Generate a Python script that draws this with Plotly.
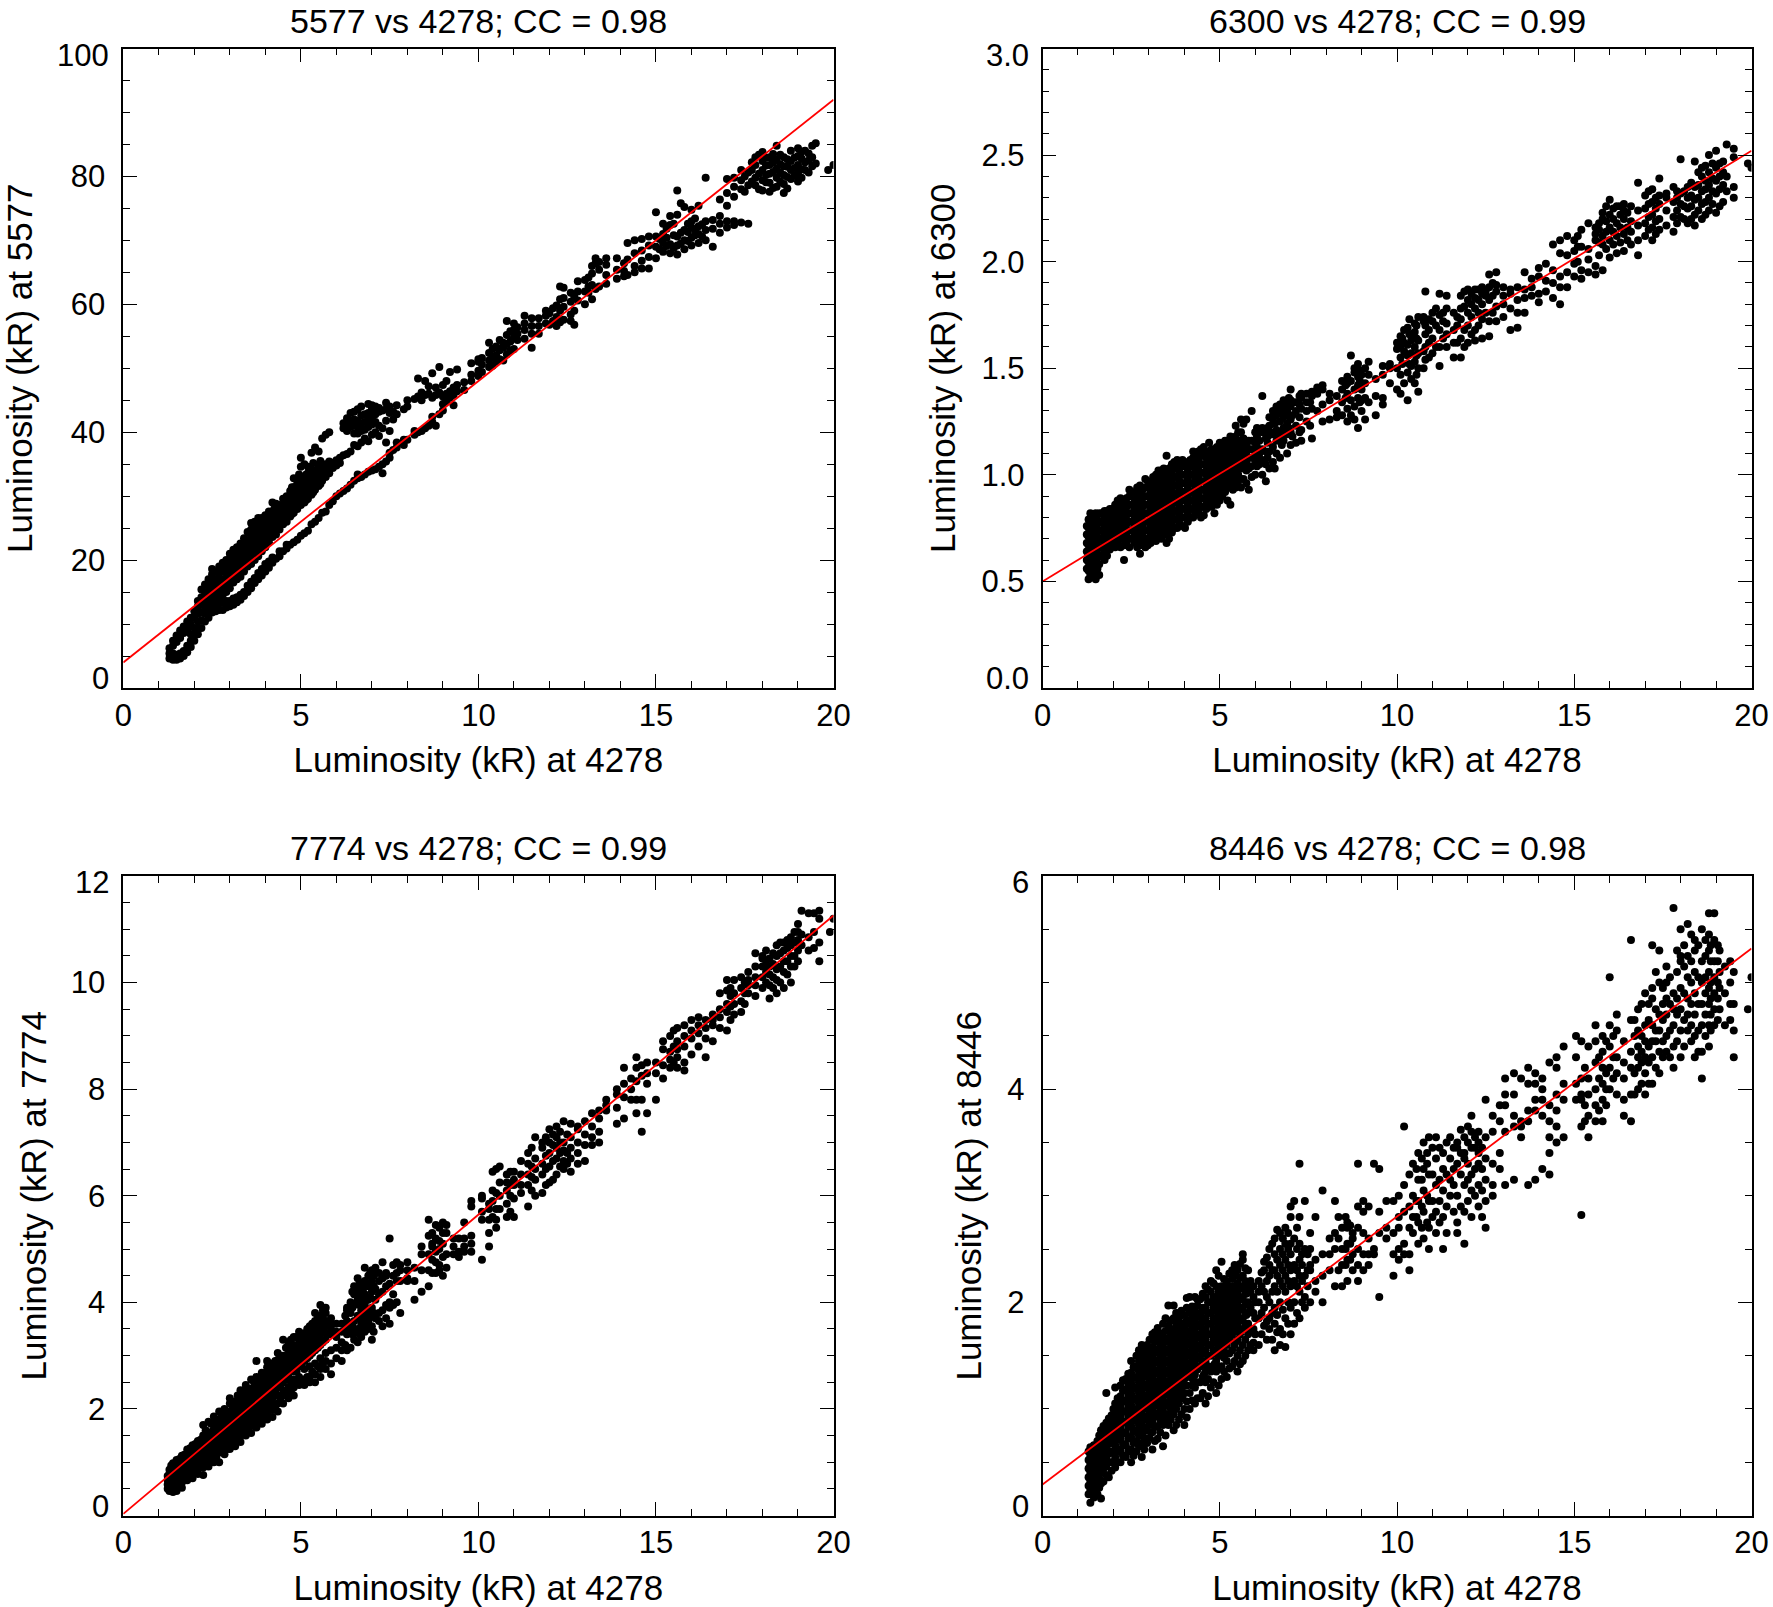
import plotly.graph_objects as go

W, H = 1773, 1607
panel_names = ["5577", "6300", "7774", "8446"]
titles = ["5577 vs 4278; CC = 0.98", "6300 vs 4278; CC = 0.99", "7774 vs 4278; CC = 0.99", "8446 vs 4278; CC = 0.98"]
y_ranges = [100, 3, 12, 6]
y_major = [[0,20,40,60,80,100],[0,0.5,1,1.5,2,2.5,3],[0,2,4,6,8,10,12],[0,2,4,6]]
y_major_text = [["0","20","40","60","80","100"],["0.0","0.5","1.0","1.5","2.0","2.5","3.0"],["0","2","4","6","8","10","12"],["0","2","4","6"]]
y_minor_step = [5, 0.1, 0.5, 0.5]
line_ends = [[4.0,92.0],[0.5,2.52],[0.03,11.26],[0.29,5.32]]
line_x = [0, 20]

cols_5577 = [
(1.3,[4.6,5.4,6.2]),(1.4,[4.4,5.4,6.6,7.4]),(1.5,[4.4,5.2,7.2,8.2]),(1.6,[4.6,5.4,7.8,9]),(1.7,[5,5.8,8.6,9.6]),
(1.8,[5.6,6.6,9.2,10.4]),(1.9,[6.4,7.4,8.4,10,11]),(2.0,[7.4,8.4,9.4,11,12]),(2.1,[8.4,9.4,10.4,11.6,12.8,13.6]),
(2.2,[9.4,10.6,11.8,13,14.2,15.4]),(2.3,[10.4,11.6,12.6,13.8,15,16.2]),(2.4,[11,12,13,14,15,16,17]),(2.5,[11.8,12.8,13.8,14.8,15.8,16.8,17.8,18.6]),
(2.6,[12,13,14,15,16,17,18.2]),(2.7,[12.2,13.2,14.2,15.2,16.2,17.2,18,19]),(2.8,[12.2,13.4,14.6,15.8,17,18.2,19,19.6]),
(2.9,[12.6,13.6,15,16,17,18,19,20]),(3.0,[12.8,13.6,15.6,16.8,18,19,20,21]),(3.1,[13,14,16.5,17.5,18.5,19.5,20.8,21.6]),
(3.2,[13.4,14.2,17,18,19,20,21,22]),(3.3,[13.8,14.6,17.4,18.4,19.4,20.4,21.5,22.6]),(3.4,[14.4,15,18.2,19.2,20.2,21.2,22.2,23.4]),
(3.5,[15,16,19,20,21,22,23,24.4]),(3.6,[15.6,16.6,19.4,20.4,21.4,22.4,23.4,24.8,25.8]),(3.7,[16.4,17.2,20,21,22,23,24,25.4,26]),
(3.8,[17,18,20.6,21.6,22.6,23.6,24.6,26,26.6]),(3.9,[17.6,18.6,21.4,22.4,23.4,24.4,25.4,26.6]),(4.0,[18.2,19.4,22,23,24,25,26,27]),
(4.1,[18.8,19.8,22.8,23.8,24.8,25.8,26.8,27.6]),(4.2,[19.6,20.4,23.6,24.6,25.6,26.6,27.6,29]),(4.3,[20.2,24,25,26,27,28,28.8]),
(4.4,[20.6,21.4,24.8,25.8,26.8,27.8,28.6]),(4.5,[21.4,25.6,26.6,27.6,28.6,29.6]),(4.6,[21.8,22.4,26,27,28,29,30]),
(4.7,[22.4,26.8,27.8,28.8,29.8,30.8]),(4.8,[22.8,27.4,28.4,29.4,30.4,31.4,32.8]),(4.9,[23.2,28,29,30,31,32]),
(5.0,[23.8,28.6,29.6,30.6,31.6,32.6,34.6,36]),(5.1,[24.2,29,30,31,32,33,35]),(5.2,[24.6,29.6,30.6,31.6,32.6,33.6,34.6]),
(5.3,[25.6,30.2,31.2,32.2,33.2,34.2,36.8]),(5.4,[26,31,32,33,34,37.6]),(5.5,[26.6,31.6,32.6,33.6,34.6,37]),
(5.6,[27.4,32.4,33.4,34.4,35,39]),(5.7,[27.6,33,34,35,39.6]),(5.8,[28.6,33.6,34.6,35.4,40]),(5.9,[29.2,34.4,35.2]),
(6.0,[30,34.8,35.6]),(6.1,[30.4,35.2,36]),(6.2,[30.8,36.4,40.6,41.4]),(6.3,[31.2,36.6,40.2,41,42.2]),(6.4,[31.8,37,40.8,41.8,43]),
(6.5,[32.4,38,39.8,41,42,43.2]),(6.6,[32.8,33.4,37.8,39.8,40.8,41.8,43.6]),(6.7,[33,38.4,40.2,41.4,42.6,44]),(6.8,[33.4,39,40.4,41.6,42.8]),
(6.9,[33.8,38.6,40.8,42,43,44.4]),(7.0,[34,39.6,41.2,42.4,43.6,44.2]),(7.1,[34.2,40,41.6,42.8,44]),(7.2,[34.6,39.4,41,43.2,43.8]),
(7.3,[35,33.6,40.6,43.4]),(7.4,[35.4,38.4,41.8,43.6,44.6]),(7.5,[36,36.8,40.2,43,44]),(7.6,[37.2,42,43.2]),(7.7,[37.6,38.4,42.8,44.2]),
(7.9,[38,38.8,43.6]),(8.0,[38.8,44,45]),(8.2,[39.6,40.2,45.2]),(8.3,[40,45.6,48.4]),(8.4,[40.2,45,46.2]),(8.5,[40.6,45.8,48]),
(8.6,[41,46,47.2]),(8.7,[41.6,42.4,45.4,49.2]),(8.8,[41,45.8,47]),(8.9,[42.8,46.2,50.2]),(9.0,[43.4,44.4,45.6,47.4]),(9.1,[44.8,46,48]),
(9.2,[45.4,46.4,49.4]),(9.3,[44.2,45.8,47]),(9.4,[46.4,47.4,49.8]),(9.6,[46.6,47.8]),(9.8,[48,49,50.8]),(10.0,[48.8,49.6,51,51.4]),
(10.1,[49.4,50.6,51.6]),(10.3,[50.2,51.2,52.4,54]),(10.4,[50.4,51.8,53]),(10.5,[51,52,53.4]),(10.6,[51.4,52.8,54.4]),(10.7,[51.2,53.2,54]),
(10.8,[52.2,53.8,55.2,57.4]),(10.9,[52.8,54.2,55.8]),(11.0,[53,54.8,56,57]),(11.1,[54.4,55.4,56.4]),(11.3,[54.6,56,57,58.2]),(11.5,[53.2,55.4,56.6,57.8]),
(11.7,[55.4,56.6,57.8]),(11.9,[57,58.2,59]),(12.0,[56.8,58.6]),(12.1,[57.4,59.4]),(12.2,[56.6,58,59.8]),(12.3,[57.2,59,60.8,62.8]),(12.4,[57.6,59.6,61,62.6]),
(12.6,[57.4,58.4,60.4,61.8]),(12.7,[56.8,59,61.2]),(12.8,[60.6,62,63.6]),(13.0,[60,62,63.8]),(13.1,[61.8,62.8,64.2]),(13.2,[60.8,63,64.8,66]),
(13.3,[62.4,66.4,67.2]),(13.4,[62.8,65.4,66.6]),(13.6,[63.2,64.6,66.2,67.2]),(13.9,[64,65.4,67.2]),(14.1,[64.4,65.2,66.4]),(14.2,[64.6,67,69.6]),(14.4,[65,66,68,70]),
(14.6,[65.6,66.8,68.4,70.2]),(14.8,[65.6,67.4,69.2,70.6]),(15.0,[67.2,69,70.6,74.4]),(15.2,[68.2,69.6,72.6,71]),(15.4,[68,69.4,72.4,73.8]),(15.6,[67.8,69.2,70.6,74,77.8]),
(15.8,[68.6,70,71.6,75.2]),(16.0,[69.2,70.4,72,74.8,73]),(16.2,[69.6,71,72.2,75.4]),(16.4,[70,71.6,73,79.8]),(16.6,[69,71.8,73.2]),(16.8,[71.2,72.6,73.8,76.4]),
(17.0,[72,73,75.4,77.4,79.6]),(17.2,[72.4,73,78.4,79.8,76.8]),(17.4,[72.8,78,79.4,81]),(17.5,[77.6,80]),(17.6,[72.6,78.6,80.6]),(17.8,[78.6,79.8,81.8,83]),
(17.9,[78,80.4,83.4]),(18.0,[77.8,79.4,81,82.4,83.8]),(18.2,[77.6,79,80.4,81.8,83]),(18.4,[78.4,79.8,81.2,82.6,84.8]),(18.6,[77.4,78.8,80.2,81.6,83]),
(18.8,[79.6,81,82.4,84]),(19.0,[79.2,80.4,81.8,83.2,84.4]),(19.2,[81,82.2,84]),(19.4,[81.6,83,84.8]),(19.5,[82,85.2]),(19.85,[81]),(20.0,[81.8]),
(18.1,[79.1,80.2,81.7,82.9]),(18.3,[78.2,80.7,82.2,83.5]),(18.5,[79.2,80.6,81.9,83.4]),(18.7,[78.1,79.9,81.5,82.7]),(18.9,[80.1,81.3,82.9]),(19.1,[79.8,81.1,82.8,83.9]),(19.3,[80.6,82.5,83.6]),(17.7,[79.2,81,82.2]),
(15.1,[68.6,70.2]),(15.3,[69.1,70.4,71.8]),(15.5,[68.8,70.8,72.6]),(15.7,[69.5,71.2,75.8]),(15.9,[69.9,71.3,72.6]),(16.1,[70.8,71.7,73.4]),(16.3,[70.6,72.5]),
(2.55,[15.4,16.4,13.4]),(3.05,[17.3,18.5,19.6]),(3.25,[18.5,19.6,20.6]),(3.55,[20.5,21.6,22.6,24.2]),(3.75,[21.5,22.6,23.7,24.6]),(4.05,[23.5,24.6,25.6,26.6]),(4.25,[24.2,25.2,26.2,27.2,28]),(4.55,[26.4,27.4,28.4,29.4]),(4.75,[27.2,28.2,29.2,30.2,31.4]),(4.95,[28.6,29.6,30.6,31.6,33.4]),(5.15,[29.4,30.4,31.4,32.4,33.4]),(5.35,[30.6,31.6,32.6,33.6,35.2]),(5.55,[31.9,33,34,35.5]),
]

cols_6300 = [
(1.25,[.56,.6,.64,.68,.72,.76]),(1.3,[.51,.55,.59,.63,.67,.71,.75,.79]),(1.4,[.53,.57,.61,.65,.69,.73,.77,.8]),(1.5,[.51,.55,.59,.63,.67,.71,.75,.79,.82]),
(1.6,[.53,.58,.62,.66,.7,.74,.78,.82]),(1.75,[.6,.64,.68,.72,.76,.8,.83]),(1.9,[.65,.69,.73,.77,.81,.84]),(2.05,[.66,.7,.74,.78,.82,.86]),
(2.2,[.66,.7,.74,.78,.82,.85,.89]),(2.3,[.6,.67,.71,.75,.79,.83,.87]),(2.45,[.66,.7,.74,.78,.82,.86,.9,.93]),(2.6,[.68,.72,.76,.8,.84,.88,.92]),
(2.75,[.63,.67,.71,.75,.79,.83,.87,.91,.95]),(2.9,[.66,.7,.74,.78,.82,.86,.9,.94,.98]),(3.05,[.68,.72,.76,.8,.84,.88,.92,.96]),(3.2,[.69,.73,.77,.81,.85,.89,.93,.97,1.0]),
(3.35,[.7,.74,.78,.82,.86,.9,.94,.98,1.02]),(3.5,[.68,.73,.77,.81,.85,.89,.93,.97,1.01,1.09]),(3.65,[.73,.77,.81,.85,.89,.93,.97,1.01,1.05]),
(3.8,[.75,.79,.83,.87,.91,.95,.99,1.03,1.07]),(3.95,[.76,.8,.84,.88,.92,.96,1,1.04,1.07]),(4.1,[.78,.82,.86,.9,.94,.98,1.02,1.05]),
(4.25,[.8,.84,.88,.92,.96,1,1.04,1.08,1.11]),(4.4,[.83,.87,.91,.95,.99,1.03,1.07,1.11]),(4.55,[.81,.85,.89,.93,.97,1.01,1.05,1.09,1.13]),
(4.7,[.86,.9,.94,.98,1.02,1.06,1.1,1.15]),(4.85,[.82,.88,.92,.96,1,1.04,1.08,1.12]),(5.0,[.88,.92,.96,1,1.04,1.08,1.12,1.15]),(5.15,[.92,.96,1,1.04,1.08,1.12,1.16]),
(5.3,[.86,.94,.98,1.02,1.06,1.1,1.14,1.18]),(5.45,[.94,.98,1.02,1.06,1.1,1.14,1.18,1.23]),(5.6,[.94,.98,1.03,1.07,1.11,1.15,1.2,1.26]),(5.75,[.96,1.02,1.06,1.1,1.14,1.26]),
(5.9,[.99,1.04,1.08,1.12,1.16,1.3]),(6.05,[1.04,1.09,1.13,1.18,1.22]),(6.2,[1.0,1.07,1.12,1.2,1.22,1.37]),(6.3,[.97,1.05,1.11,1.17,1.21]),(6.4,[1.03,1.11,1.2,1.23,1.27]),
(6.5,[1.06,1.13,1.19,1.26,1.3]),(6.6,[1.1,1.16,1.21,1.28,1.32]),(6.7,[1.08,1.18,1.25,1.29,1.33]),(6.8,[1.16,1.22,1.27,1.31,1.35]),(6.9,[1.1,1.19,1.24,1.3,1.33]),
(7.0,[1.14,1.2,1.26,1.32,1.35,1.4]),(7.15,[1.15,1.23,1.3,1.34]),(7.3,[1.16,1.21,1.31,1.36,1.38]),(7.45,[1.25,1.3,1.34,1.38]),(7.6,[1.17,1.31,1.37,1.39]),(7.75,[1.3,1.38,1.41]),
(7.9,[1.25,1.33,1.4,1.42]),(8.1,[1.26,1.35,1.38]),(8.3,[1.3,1.27,1.37]),(8.45,[1.28,1.34,1.4,1.44]),(8.6,[1.25,1.31,1.38,1.46,1.43]),(8.7,[1.28,1.35,1.44,1.56]),
(8.8,[1.26,1.32,1.4,1.48,1.5]),(8.9,[1.22,1.36,1.42,1.46,1.52]),(9.0,[1.3,1.35,1.4,1.47]),(9.1,[1.26,1.36,1.43,1.5]),(9.2,[1.34,1.47,1.53]),(9.4,[1.28,1.37,1.45]),
(9.6,[1.33,1.36,1.47,1.51]),(9.8,[1.43,1.52,1.5]),(10.0,[1.4,1.5,1.59,1.62]),(10.1,[1.38,1.47,1.55,1.6,1.65]),(10.2,[1.43,1.58,1.62,1.68]),(10.3,[1.35,1.48,1.56,1.61,1.69]),
(10.4,[1.45,1.51,1.57,1.63,1.66]),(10.5,[1.43,1.53,1.6,1.67,1.71]),(10.6,[1.39,1.5,1.57,1.63,1.74]),(10.8,[1.54,1.6,1.66,1.7,1.86]),(10.9,[1.55,1.62,1.68,1.73]),(11.0,[1.57,1.64,1.72,1.76]),
(11.2,[1.51,1.6,1.68,1.75,1.85]),(11.4,[1.6,1.66,1.71,1.84,1.78]),(11.6,[1.55,1.62,1.68,1.76]),(11.8,[1.55,1.64,1.73,1.78,1.84]),(12.0,[1.62,1.7,1.76,1.82,1.87]),
(12.2,[1.63,1.68,1.78,1.83,1.87]),(12.4,[1.64,1.73,1.8,1.85,1.88]),(12.6,[1.65,1.72,1.82,1.88,1.94]),(12.8,[1.72,1.79,1.86,1.95,1.89]),(13.0,[1.74,1.8,1.84,1.88]),(13.2,[1.68,1.78,1.85,1.87]),
(13.4,[1.69,1.76,1.82,1.88]),(13.6,[1.76,1.83,1.87,1.95]),(13.8,[1.84,1.88,1.92]),(14.0,[1.81,1.85,1.93,1.97]),(14.2,[1.86,1.91,1.99]),(14.4,[1.83,1.9,1.96,2.08]),(14.6,[1.8,1.88,1.93,2.04,2.1]),
(14.8,[1.88,1.95,2.03,2.12]),(15.0,[1.93,1.99,2.05,2.1]),(15.2,[1.92,1.96,2.07,2.15]),(15.4,[1.95,2.01,2.06,2.18]),(15.6,[1.94,1.98,2.1,2.13,2.16]),(15.8,[1.96,2.08,2.12,2.2,2.23]),
(16.0,[2.02,2.1,2.16,2.22,2.29]),(16.2,[2.04,2.12,2.18,2.26]),(16.4,[2.05,2.13,2.2,2.24,2.27]),(16.6,[2.08,2.14,2.19,2.26]),(16.8,[2.03,2.1,2.17,2.24,2.37]),(17.0,[2.12,2.18,2.25,2.31]),
(17.2,[2.1,2.16,2.22,2.28,2.34]),(17.4,[2.15,2.2,2.27,2.31,2.39]),(17.6,[2.17,2.24,2.3,2.32]),(17.8,[2.14,2.21,2.28,2.35]),(18.0,[2.21,2.27,2.32,2.48]),(18.2,[2.18,2.25,2.3,2.35]),
(18.4,[2.17,2.22,2.29,2.35,2.47]),(18.6,[2.2,2.27,2.33,2.4,2.44]),(18.8,[2.24,2.3,2.36,2.42,2.5]),(19.0,[2.23,2.32,2.38,2.44,2.52]),(19.2,[2.28,2.36,2.42,2.47]),(19.3,[2.33,2.4,2.55]),
(19.5,[2.3,2.35,2.49,2.53]),(19.9,[2.46]),(20.0,[2.44]),
(1.35,[.53,.58,.62,.66,.7,.74,.78,.82]),(1.55,[.56,.61,.65,.69,.73,.77,.81]),(1.68,[.62,.66,.7,.74,.78,.82]),(1.82,[.62,.66,.71,.75,.79,.83]),(1.97,[.68,.72,.76,.8,.84]),(2.12,[.68,.72,.76,.8,.84,.88]),(2.37,[.68,.72,.77,.81,.85,.89]),(2.52,[.7,.74,.78,.82,.86,.91]),(2.67,[.66,.7,.74,.78,.82,.86,.9,.94]),(2.82,[.68,.72,.76,.81,.85,.89,.93]),(2.97,[.67,.7,.74,.78,.82,.86,.9,.94,.97]),(3.12,[.71,.75,.79,.83,.87,.91,.95,.99]),(3.27,[.71,.75,.79,.83,.87,.91,.95,.99,1.02]),(3.42,[.72,.76,.8,.84,.88,.92,.96,1,1.03]),(3.57,[.7,.75,.79,.83,.87,.91,.95,.99,1.03]),(3.72,[.75,.79,.83,.87,.91,.95,.99,1.03,1.06]),(3.87,[.77,.81,.85,.89,.93,.97,1.01,1.05]),(4.02,[.75,.8,.84,.88,.92,.96,1,1.04,1.06]),(4.17,[.8,.84,.88,.92,.96,1,1.04,1.07]),(4.32,[.82,.86,.9,.94,.98,1.02,1.06,1.09]),(4.47,[.8,.85,.89,.93,.97,1.01,1.05,1.09,1.12]),(4.62,[.84,.88,.92,.96,1,1.04,1.08,1.11]),(4.77,[.85,.89,.93,.97,1.01,1.05,1.09,1.12]),(4.92,[.86,.9,.94,.98,1.02,1.06,1.1,1.13]),(5.07,[.9,.94,.98,1.02,1.06,1.1,1.14]),(5.22,[.88,.95,.99,1.03,1.07,1.11,1.15]),(5.37,[.93,.97,1.01,1.05,1.09,1.13,1.17]),(5.52,[.95,1,1.04,1.08,1.12,1.16,1.2]),(5.67,[.98,1.04,1.08,1.12,1.17,1.24]),(5.82,[.93,1.03,1.08,1.12,1.16]),(6.0,[1.0,1.07,1.11,1.15,1.2]),
(6.12,[1.05,1.1,1.16,1.21]),(6.35,[1.08,1.15,1.22,1.18]),(6.55,[1.03,1.2,1.24,1.29]),(6.75,[1.14,1.2,1.29,1.32]),(6.95,[1.22,1.28,1.36]),(7.05,[1.18,1.28,1.34]),(7.25,[1.2,1.27,1.33,1.37]),(7.55,[1.23,1.34]),(8.55,[1.36,1.42]),(8.95,[1.34,1.44,1.49]),(10.15,[1.52,1.64]),(10.35,[1.52,1.66,1.73]),(10.55,[1.47,1.56,1.64,1.7]),(10.75,[1.5,1.58,1.72,1.74]),(11.1,[1.6,1.7,1.78]),(11.3,[1.64,1.72,1.76]),(11.7,[1.62,1.7,1.74]),(11.9,[1.6,1.68,1.79,1.86]),(12.1,[1.66,1.74,1.8,1.85]),(12.3,[1.7,1.76,1.82,1.87]),(12.5,[1.76,1.84,1.86]),(12.7,[1.76,1.84,1.9]),
(15.1,[2.0,2.07,2.12]),(15.7,[2.03,2.09,2.15,2.18]),(15.9,[2.06,2.14,2.19,2.26]),(16.1,[2.08,2.14,2.2,2.25]),(16.3,[2.09,2.16,2.22,2.26]),(16.5,[2.1,2.16,2.23]),(17.1,[2.15,2.21,2.27,2.33]),(17.3,[2.13,2.19,2.25,2.3]),(17.9,[2.18,2.24,2.3,2.33]),(18.1,[2.2,2.26,2.33]),(18.3,[2.2,2.26,2.31,2.37]),(18.5,[2.24,2.3,2.36,2.42]),(18.7,[2.22,2.28,2.34,2.38,2.45]),(18.9,[2.27,2.33,2.39,2.46]),(19.1,[2.26,2.34,2.4,2.46]),
]

cols_7774 = [
(1.25,[.5,.58,.66,.74]),(1.3,[.46,.54,.62,.7,.78,.86]),(1.4,[.44,.52,.6,.68,.76,.84,.92,.98]),(1.5,[.46,.56,.64,.72,.8,.88,.96,1.04]),(1.65,[.52,.62,.72,.82,.92,1.02,1.12]),
(1.8,[.66,.76,.86,.96,1.06,1.16,1.24]),(1.95,[.7,.82,.92,1.02,1.12,1.22,1.32]),(2.1,[.78,.88,.98,1.08,1.18,1.28,1.4]),(2.25,[.76,.9,1.0,1.1,1.2,1.3,1.4,1.5,1.7]),
(2.4,[.92,1.04,1.14,1.24,1.34,1.44,1.54,1.76]),(2.55,[1.0,1.12,1.22,1.32,1.42,1.52,1.62,1.74,1.86]),(2.7,[1.0,1.18,1.28,1.38,1.48,1.58,1.68,1.8,1.95]),(2.85,[1.15,1.27,1.37,1.47,1.57,1.67,1.77,1.87,2.0]),
(3.0,[1.25,1.35,1.45,1.55,1.65,1.75,1.85,1.95,2.1,2.2]),(3.15,[1.3,1.42,1.52,1.62,1.72,1.82,1.92,2.02,2.14]),(3.3,[1.38,1.5,1.6,1.7,1.8,1.9,2.0,2.1,2.2,2.35]),(3.45,[1.5,1.6,1.7,1.8,1.9,2.0,2.1,2.2,2.32,2.45]),
(3.6,[1.55,1.68,1.78,1.88,1.98,2.08,2.18,2.28,2.38,2.55]),(3.75,[1.65,1.76,1.86,1.96,2.06,2.16,2.26,2.36,2.46,2.6,2.9]),(3.9,[1.72,1.84,1.94,2.04,2.14,2.24,2.34,2.44,2.54,2.68]),(4.05,[1.8,1.92,2.02,2.12,2.22,2.32,2.42,2.52,2.62,2.78,2.9]),
(4.2,[1.85,1.98,2.1,2.2,2.3,2.4,2.5,2.6,2.7,2.85]),(4.35,[1.95,2.1,2.25,2.4,2.5,2.6,2.7,2.8,2.92,3.05]),(4.5,[2.1,2.25,2.35,2.5,2.6,2.7,2.8,2.9,3.0,3.3]),(4.65,[2.2,2.4,2.6,2.7,2.8,2.9,3.0,3.1,3.25]),
(4.8,[2.25,2.4,2.55,2.7,2.8,2.9,3.0,3.1,3.2,3.35]),(4.95,[2.45,2.6,2.8,2.9,3.0,3.1,3.2,3.3,3.45]),(5.1,[2.45,2.55,2.75,2.9,3.0,3.1,3.2,3.3,3.42]),(5.25,[2.5,2.6,2.8,3.0,3.1,3.2,3.3,3.4,3.55]),
(5.4,[2.5,2.65,2.85,3.1,3.2,3.3,3.4,3.5,3.65,3.8]),(5.55,[2.6,2.75,2.95,3.2,3.3,3.4,3.5,3.6,3.75,3.95]),(5.7,[2.75,2.9,3.05,3.3,3.42,3.55,3.65,3.8,3.9]),(5.85,[2.65,2.85,3.1,3.4,3.5,3.6,3.7]),(6.0,[2.95,3.15,3.35,3.45,3.6]),
(6.15,[2.9,3.1,3.25,3.45,3.6]),(6.3,[3.1,3.4,3.55,3.85,3.9,3.65]),(6.4,[3.15,3.5,3.8,4.0]),(6.5,[3.3,3.45,3.65,3.95,4.3,4.15]),(6.6,[3.25,3.5,3.75,4.05,4.45,4.25]),(6.7,[3.35,3.6,3.85,4.1,4.3,4.2]),
(6.8,[3.45,3.7,3.95,4.15,4.4,4.65]),(6.9,[3.5,3.65,3.8,4.05,4.3,4.5]),(7.0,[3.3,3.55,3.9,4.2,4.4,4.6]),(7.1,[3.7,4.05,4.25,4.55,4.65]),(7.2,[3.65,3.8,4.15,4.4,4.55]),(7.3,[3.55,3.85,4.2,4.45,4.75]),
(7.4,[3.7,3.95,4.3,4.5,4.55]),(7.5,[3.6,3.9,4.0,4.35,5.2]),(7.6,[3.95,4.15,4.5,4.7]),(7.7,[4.0,4.4,4.55,4.75]),(7.8,[3.8,4.4,4.6,4.7]),(8.0,[4.4,4.45,4.6,4.75]),(8.2,[4.05,4.4,4.65]),(8.4,[4.2,4.6,4.9,5.05]),
(8.6,[4.3,4.6,4.9,5.25,5.55]),(8.7,[4.55,4.8,5.05,5.3,5.1]),(8.8,[4.55,4.75,4.95,5.2,5.45]),(8.9,[4.6,4.7,5.0,5.4,5.15]),(9.0,[4.5,4.85,5.1,5.3,5.5]),(9.1,[4.65,4.9,5.3,5.45]),(9.3,[4.9,5.05,5.2]),(9.45,[4.85,4.95,5.2]),
(9.6,[4.95,5.05,5.2,5.5]),(9.8,[4.95,5.1,5.25,5.8,5.9]),(10.1,[4.8,5.55,5.7,5.95,6.0]),(10.3,[5.05,5.3,5.55,5.85,5.75]),(10.4,[5.6,5.9,6.1,6.45]),(10.5,[5.4,5.55,5.75,6.05,6.5]),(10.6,[5.75,6.0,6.25,6.55]),
(10.8,[5.6,5.85,6.1,6.25,6.4]),(10.9,[5.7,6.0,6.2,6.45]),(11.0,[5.6,5.95,6.2,6.3,6.45]),(11.2,[6.05,6.2,6.4,6.65]),(11.4,[5.8,6.2,6.4,6.6,6.8]),(11.6,[6.0,6.3,6.5,6.7,7.1]),(11.8,[6.05,6.4,6.6,6.9,7.0]),
(12.0,[6.25,6.55,6.8,7.0,7.25]),(12.2,[6.4,6.7,6.9,7.1,7.3]),(12.4,[6.5,6.65,6.85,7.0,7.4]),(12.6,[6.45,6.7,6.9,7.1,7.35]),(12.8,[6.6,6.8,7.0,7.25,7.3]),(13.0,[6.65,6.95,7.15,7.4]),(13.2,[6.95,7.1,7.3,7.55]),
(13.4,[7.0,7.2,7.45,7.6]),(13.6,[7.6,7.7,7.8]),(13.9,[7.35,7.65,7.9,8.0]),(14.1,[7.45,7.85,8.1,8.4]),(14.3,[7.8,8.0,8.2]),(14.45,[7.55,7.8,8.15,8.4,8.6]),(14.6,[7.2,7.8,8.25,8.45]),(14.75,[7.55,8.1,8.3,8.5]),(15.0,[7.8,8.3,8.5]),
(15.2,[8.2,8.45,8.9,8.75]),(15.4,[8.4,8.55,8.7,9.0]),(15.6,[8.4,8.6,8.75,8.9,9.15]),(15.8,[8.35,8.5,8.8,9.0,9.2]),(16.0,[8.65,8.95,9.1,9.3]),(16.2,[8.8,9.05,9.2,9.35]),(16.4,[8.6,8.95,9.15,9.3]),(16.6,[8.9,9.2,9.3,9.4]),
(16.8,[9.15,9.35,9.5,9.8]),(17.0,[9.1,9.45,9.6,9.85,10.05]),(17.2,[9.4,9.6,9.8,10.05]),(17.4,[9.45,9.65,9.9,10.1]),(17.6,[9.8,9.95,10.2,10.05]),(17.8,[9.75,9.95,10.1,10.3,10.55]),(18.0,[9.9,10.1,10.3,10.45,10.5]),(18.2,[9.7,9.95,10.15,10.45,10.3]),
(18.4,[9.8,10.05,10.25,10.5,10.7]),(18.6,[9.9,10.2,10.4,10.6,10.75]),(18.8,[10.0,10.3,10.5,10.7,10.85]),(19.0,[10.4,10.6,10.8,11.1,10.95]),(19.1,[10.7,10.9,11.35]),(19.3,[10.6,10.85,11.3]),(19.45,[10.65,10.95,11.3]),(19.6,[10.4,10.75,11.2,11.35]),(19.9,[10.95]),(20.0,[11.2]),
(1.35,[.48,.66,.8,.94]),(1.58,[.6,.76,.9,1.06]),(1.72,[.68,.84,1.0,1.14]),(1.88,[.78,.94,1.1,1.26]),(2.03,[.82,.98,1.14,1.34]),(2.18,[.9,1.04,1.24,1.42]),(2.32,[.98,1.14,1.3,1.46,1.6]),(2.47,[1.06,1.22,1.38,1.56,1.72]),(2.62,[1.1,1.26,1.44,1.66,1.8]),(2.78,[1.2,1.33,1.52,1.72,1.88]),(2.92,[1.25,1.42,1.6,1.82,1.95]),(3.08,[1.36,1.5,1.7,1.9,2.05]),(3.22,[1.45,1.65,1.86,2.06,2.25]),(3.38,[1.52,1.72,1.94,2.15,2.3]),(3.52,[1.58,1.75,1.96,2.14,2.36]),(3.68,[1.72,1.92,2.12,2.32,2.5]),(3.82,[1.8,2.0,2.2,2.4,2.58]),(3.98,[1.88,2.08,2.28,2.48,2.66]),(4.12,[2.05,2.15,2.35,2.55,2.72]),(4.28,[2.05,2.35,2.55,2.75,2.9]),(4.42,[2.2,2.45,2.65,2.85,3.0]),(4.58,[2.3,2.55,2.75,2.95,3.15]),(4.72,[2.32,2.5,2.75,2.95,3.15,3.3]),(4.88,[2.5,2.7,2.95,3.15,3.35]),(5.02,[2.5,2.85,3.05,3.25,3.38]),(5.18,[2.6,2.95,3.15,3.35,3.5]),(5.32,[2.7,3.05,3.25,3.45,3.6]),(5.48,[2.8,3.15,3.35,3.55,3.7]),(5.62,[2.85,3.25,3.45,3.7,3.85]),
(6.25,[3.2,3.5,3.75]),(6.45,[3.4,3.6,3.9,4.2]),(6.65,[3.4,3.7,3.95,4.35,4.15]),(6.75,[3.5,3.75,4.0,4.25]),(6.85,[3.6,3.85,4.05,4.35]),(6.95,[3.75,4.1,4.35,4.55]),(7.05,[3.45,3.8,4.3,4.5]),(11.5,[6.1,6.35,6.55,6.9]),(11.9,[6.2,6.5,6.75,7.1]),(12.1,[6.3,6.65,6.95,7.15]),(12.3,[6.55,6.8,7.0,7.2]),(12.5,[6.6,6.8,7.15]),
(15.5,[8.5,8.8,9.1]),(17.1,[9.3,9.55,9.75,9.9]),(17.5,[9.6,9.8,10.0]),(18.1,[10.0,10.2,10.4,10.6]),(18.3,[9.9,10.1,10.35,10.55]),(18.5,[10.0,10.3,10.55,10.75]),(18.7,[10.15,10.4,10.65,10.8]),(18.9,[10.3,10.5,10.75,10.95]),
]

cols_8446 = [
(1.3,[.2,.28,.36,.44,.52,.6]),(1.35,[.12,.24,.32,.4,.48,.56,.64]),(1.45,[.17,.25,.33,.41,.49,.57,.66]),(1.55,[.2,.3,.38,.46,.54,.62,.7]),(1.65,[.16,.3,.4,.48,.56,.64,.72,.8]),
(1.8,[.38,.46,.55,.63,.71,.79,.87,1.15]),(1.95,[.42,.5,.6,.7,.78,.86,.94]),(2.05,[.45,.55,.66,.76,.86,.96,1.05,1.2]),(2.2,[.5,.62,.72,.82,.92,1.02,1.12,1.22]),(2.35,[.55,.66,.78,.88,.98,1.08,1.18,1.28]),
(2.5,[.5,.62,.74,.84,.94,1.04,1.14,1.24,1.34,1.45]),(2.65,[.6,.7,.8,.9,1,1.1,1.2,1.3,1.4,1.5]),(2.8,[.55,.68,.78,.88,.98,1.08,1.18,1.28,1.38,1.5,1.6]),(2.95,[.68,.8,.9,1,1.1,1.2,1.3,1.4,1.5,1.6]),
(3.1,[.62,.78,.88,.98,1.08,1.18,1.28,1.38,1.48,1.58,1.7]),(3.25,[.72,.84,.96,1.06,1.16,1.26,1.36,1.46,1.56,1.66,1.76]),(3.4,[.65,.85,.98,1.08,1.18,1.28,1.38,1.48,1.58,1.68,1.8]),(3.55,[.85,.95,1.06,1.16,1.26,1.36,1.46,1.56,1.66,1.78,1.97]),
(3.7,[.8,.95,1.05,1.15,1.25,1.35,1.45,1.55,1.65,1.75,1.85,1.97]),(3.85,[.9,1.05,1.15,1.25,1.35,1.45,1.55,1.65,1.75,1.85,1.9]),(4.0,[.85,1.0,1.15,1.28,1.38,1.48,1.58,1.68,1.78,1.88]),(4.15,[1.0,1.15,1.3,1.4,1.5,1.6,1.7,1.8,1.9,2.05]),
(4.3,[1.05,1.2,1.32,1.42,1.52,1.62,1.72,1.82,1.92,2.05]),(4.45,[1.1,1.25,1.4,1.5,1.6,1.7,1.8,1.9,2.03]),(4.6,[1.05,1.25,1.35,1.45,1.55,1.65,1.75,1.85,1.95,2.05,2.15]),(4.75,[1.2,1.35,1.5,1.6,1.7,1.8,1.9,2.0,2.1,2.2]),
(4.9,[1.15,1.35,1.45,1.55,1.65,1.75,1.85,1.95,2.05,2.15,2.3]),(5.05,[1.28,1.4,1.55,1.65,1.75,1.85,1.95,2.05,2.15,2.38]),(5.2,[1.3,1.45,1.6,1.7,1.8,1.9,2.0,2.1,2.2]),(5.35,[1.4,1.55,1.7,1.8,1.9,2.0,2.1,2.22,2.3]),
(5.5,[1.35,1.5,1.65,1.78,1.88,1.98,2.08,2.18,2.3]),(5.65,[1.45,1.6,1.75,1.85,1.95,2.05,2.15,2.25,2.4,2.45]),(5.8,[1.55,1.7,1.8,1.9,2.0,2.15,2.3]),(5.95,[1.55,1.62,1.75,1.9,2.05,2.15]),
(6.1,[1.6,1.85,2.0,2.1,2.2]),(6.25,[1.78,1.95,2.1,2.3,2.38]),(6.4,[1.75,1.85,2.0,2.25,2.35,2.5]),(6.55,[1.55,1.8,1.95,2.15,2.3,2.45,2.6]),(6.7,[1.6,1.75,2.0,2.2,2.35,2.5,2.65]),(6.85,[1.58,1.85,2.1,2.25,2.4,2.55,2.7]),
(7.0,[1.7,1.95,2.15,2.3,2.45,2.55,2.8,2.9]),(7.1,[1.8,2.0,2.2,2.35,2.6,2.95]),(7.25,[1.85,2.1,2.25,2.4,2.55,2.8,3.3]),(7.4,[1.95,2.05,2.25,2.5,2.95]),(7.55,[2.0,2.3,2.35,2.5,2.65]),(7.7,[2.1,2.2,2.4,2.8]),(7.9,[2.0,2.25,2.45,3.05]),
(8.1,[2.45,2.3,2.6]),(8.25,[2.15,2.5,2.65,2.95]),(8.45,[2.15,2.35,2.5,2.7]),(8.6,[2.2,2.4,2.55,2.75,2.7]),(8.75,[2.3,2.45,2.6,2.65]),(8.9,[2.2,2.35,2.5,2.7,3.3,2.9]),(9.05,[2.3,2.45,2.65,2.85,2.95]),
(9.2,[2.35,2.45,2.6,2.9]),(9.35,[2.45,2.5,3.3]),(9.5,[2.05,2.65,3.25,2.85]),(9.7,[2.6,2.7,2.95]),(9.9,[2.25,2.45,2.65,2.95]),(10.05,[2.4,2.5,2.7,2.8,3.0]),(10.2,[2.45,2.55,3.65,3.1,2.85]),(10.35,[2.3,2.45,2.7,2.9,3.2]),
(10.45,[2.65,2.8,3.0,3.3]),(10.6,[2.55,2.75,2.95,3.15,3.4]),(10.75,[2.6,2.85,3.05,3.25,3.5]),(10.9,[2.5,2.7,2.95,3.2,3.55]),(11.1,[2.65,2.85,3.1,3.35,3.55]),(11.3,[2.5,2.8,3.05,3.25,3.4]),(11.5,[3.0,3.15,3.35,3.55]),
(11.7,[2.65,2.75,3.0,3.3,3.5,3.45]),(11.9,[2.55,2.85,3.1,3.4,3.55,3.35]),(12.1,[2.8,3.05,3.2,3.45,3.75,3.6]),(12.3,[2.9,3.1,3.3,3.4,3.6,3.5]),(12.5,[2.7,2.95,3.15,3.35,3.55,3.9]),(12.7,[3.0,3.1,3.3,3.6,3.75]),(12.9,[3.25,3.4,3.7,3.85]),
(13.05,[3.1,3.6,3.95,4.1,3.85]),(13.3,[3.15,3.65,3.75,3.95,4.15]),(13.5,[3.55,3.7,3.65,4.1]),(13.7,[3.1,3.7,3.8,4.05,4.2]),(13.9,[3.15,3.8,3.9,4.05,4.15]),(14.1,[3.25,3.75,3.9,4.0,4.1]),(14.3,[3.2,3.4,3.55,3.7,3.85,4.25]),
(14.5,[3.5,3.65,3.8,3.95,4.3,4.2]),(14.7,[3.55,3.9,4.05,4.4]),(15.05,[3.9,4.05,4.5,4.3]),(15.2,[2.82,3.65,3.9,4.1,4.45,3.95]),(15.4,[3.55,3.75,3.95,4.1,4.4]),(15.6,[3.7,3.85,4.0,4.25,4.45,4.6]),(15.8,[3.7,3.9,4.05,4.2,4.35,4.5]),
(16.0,[4.0,4.2,4.4,4.6,5.05]),(16.2,[3.95,4.15,4.3,4.55,4.7]),(16.4,[3.75,3.9,4.1,4.25,4.45]),(16.6,[3.7,3.95,4.2,4.35,4.65,5.4]),(16.8,[4.0,4.2,4.3,4.4,4.55,4.75]),(17.0,[3.95,4.15,4.3,4.45,4.6,4.9]),(17.2,[4.05,4.3,4.45,4.6,4.85,4.95,5.35]),
(17.4,[4.15,4.35,4.55,4.7,5.3,5.0]),(17.6,[4.35,4.5,4.7,4.85,5.0,5.15]),(17.8,[4.2,4.4,4.6,4.75,4.9,5.7]),(18.0,[4.3,4.55,4.75,4.95,5.2,5.25,5.5]),(18.2,[4.55,4.7,4.85,5.05,5.25,5.55]),(18.4,[4.3,4.5,4.7,4.9,5.1,5.3,5.4]),(18.6,[4.1,4.35,4.6,4.8,5.0,5.2,5.5]),
(18.8,[4.4,4.6,4.8,4.95,5.1,5.3,5.65,5.45]),(18.95,[4.6,4.75,4.9,5.05,5.2,5.65,5.4]),(19.1,[4.75,4.95,5.1,5.3]),(19.4,[4.8,4.65,5.0,5.2]),(19.5,[4.3,4.55,4.8,5.1]),(19.9,[4.75]),(20.0,[5.05]),
(1.4,[.22,.3,.38,.46,.54,.62]),(1.6,[.26,.35,.43,.51,.59,.67,.75]),(1.72,[.32,.44,.52,.6,.68,.76,.84]),(1.87,[.36,.5,.58,.67,.75,.83,.91]),(2.0,[.5,.6,.71,.81,.91,1.0]),(2.12,[.5,.6,.71,.81,.91,1.0,1.1]),(2.27,[.56,.67,.77,.87,.97,1.07,1.17,1.27]),(2.42,[.6,.72,.83,.93,1.03,1.13,1.23,1.33]),(2.57,[.56,.68,.79,.89,.99,1.09,1.19,1.29,1.39]),(2.72,[.65,.75,.85,.95,1.05,1.15,1.25,1.35,1.45,1.55]),(2.87,[.62,.73,.83,.93,1.03,1.13,1.23,1.33,1.44,1.56]),(3.02,[.73,.85,.95,1.05,1.15,1.25,1.35,1.45,1.55,1.65]),(3.17,[.7,.83,.93,1.03,1.13,1.23,1.33,1.43,1.53,1.63,1.72]),(3.32,[.78,.9,1.01,1.11,1.21,1.31,1.41,1.51,1.61,1.71]),(3.47,[.75,.91,1.03,1.13,1.23,1.33,1.43,1.53,1.63,1.73,1.85]),(3.62,[.9,1.0,1.11,1.21,1.31,1.41,1.51,1.61,1.71,1.83]),(3.77,[.85,1.0,1.1,1.2,1.3,1.4,1.5,1.6,1.7,1.8,1.9]),(3.92,[.95,1.1,1.2,1.3,1.4,1.5,1.6,1.7,1.8,1.92]),(4.07,[.92,1.07,1.22,1.33,1.43,1.53,1.63,1.73,1.83,1.95,2.04]),(4.22,[1.08,1.22,1.36,1.46,1.56,1.66,1.76,1.86,1.96]),(4.37,[1.1,1.25,1.37,1.47,1.57,1.67,1.77,1.87,1.97,2.03]),(4.52,[1.15,1.3,1.44,1.55,1.65,1.75,1.85,1.95,2.08]),(4.67,[1.12,1.28,1.4,1.5,1.6,1.7,1.8,1.9,2.0,2.12]),(4.82,[1.25,1.4,1.55,1.65,1.75,1.85,1.95,2.05,2.18]),(4.97,[1.22,1.38,1.5,1.6,1.7,1.8,1.9,2.0,2.1,2.25]),(5.12,[1.35,1.48,1.6,1.7,1.8,1.9,2.0,2.1,2.22]),(5.27,[1.38,1.52,1.65,1.75,1.85,1.95,2.05,2.15,2.27]),(5.42,[1.45,1.6,1.75,1.85,1.95,2.05,2.15,2.25,2.35]),(5.57,[1.42,1.55,1.7,1.83,1.93,2.03,2.13,2.23,2.36]),(5.72,[1.5,1.65,1.8,1.9,2.0,2.1,2.2,2.32]),(5.87,[1.6,1.75,1.95,2.1,2.2]),(6.0,[1.7,1.85,2.0]),
(6.18,[1.7,1.9,2.15,2.28]),(6.33,[1.65,1.82,2.05,2.2,2.42]),(6.48,[1.65,1.9,2.1,2.3,2.55]),(6.62,[1.72,1.88,2.1,2.25,2.4,2.68]),(6.78,[1.7,1.93,2.15,2.3,2.45,2.6]),(6.93,[1.8,2.0,2.2,2.35,2.5,2.65]),(7.18,[1.9,2.15,2.3,2.5,2.7]),(7.32,[2.0,2.2,2.35,2.45]),(7.48,[2.15,2.3,2.45]),(8.35,[2.3,2.6,2.8]),(8.55,[2.35,2.5,2.8]),(8.68,[2.4,2.55,2.72]),(10.55,[2.8,2.95,3.25]),(10.7,[2.7,2.9,3.15,3.35]),(10.85,[2.75,3.0,3.3,3.4]),(11.0,[2.8,2.95,3.2,3.45]),(11.2,[2.75,2.95,3.15,3.45]),(11.4,[2.65,2.9,3.2,3.5]),(11.6,[2.85,3.1,3.25,3.45]),(11.8,[2.9,3.2,3.4,3.62]),(12.0,[2.95,3.15,3.3,3.5,3.65]),(12.2,[3.0,3.25,3.45,3.55]),(12.4,[2.8,3.05,3.25,3.45]),
(15.3,[3.7,3.85,4.2]),(15.7,[3.8,4.1,4.3]),(15.9,[3.85,4.0,4.15,4.45]),(16.1,[4.1,4.3,4.5]),(16.7,[3.95,4.15,4.5,4.65]),(16.9,[4.05,4.25,4.35,4.5,4.8]),(17.1,[4.05,4.25,4.4,4.65,4.8]),(17.3,[4.2,4.45,4.55,4.75,5.1]),(17.5,[4.3,4.45,4.65,4.8,4.95]),(17.7,[4.3,4.55,4.8,5.05]),(17.9,[4.45,4.7,4.85,5.1,5.3]),(18.1,[4.4,4.65,4.9,5.15,5.35]),(18.3,[4.45,4.6,4.8,5.0,5.2,5.45]),(18.5,[4.35,4.55,4.8,5.05,5.35]),(18.7,[4.5,4.7,4.9,5.05,5.25,5.4]),(18.85,[4.55,4.7,4.85,5.0,5.2,5.35]),(19.05,[4.65,4.85,5.0,5.2,5.35]),(19.25,[4.6,4.9,5.15]),
(2.15,[.77,.87,.97,1.07]),(2.45,[.89,.99,1.09,1.19,1.29]),(2.75,[.83,.93,1.03,1.13,1.23,1.33,1.43]),(3.05,[.93,1.03,1.13,1.23,1.33,1.43,1.53]),(3.35,[.95,1.05,1.15,1.25,1.35,1.45,1.55,1.65]),(3.65,[1.03,1.13,1.23,1.33,1.43,1.53,1.63,1.73]),(3.95,[1.12,1.25,1.35,1.45,1.55,1.65,1.75]),(4.25,[1.27,1.37,1.47,1.57,1.67,1.77,1.87]),(4.55,[1.32,1.42,1.52,1.62,1.72,1.82,1.92]),(4.85,[1.42,1.52,1.62,1.72,1.82,1.92,2.02]),(5.15,[1.53,1.65,1.75,1.85,1.95,2.05,2.15]),(5.45,[1.63,1.73,1.83,1.93,2.03,2.13]),(5.75,[1.78,1.88,1.98,2.08]),
]
all_cols = [cols_5577, cols_6300, cols_7774, cols_8446]

# pixel boxes of the four frames
lefts, rights = [123.3, 1042.5], [833.5, 1751.5]
tops, bottoms = [48.5, 876], [688, 1515.5]
ytitle_standoff = [29, 15, 14, 15]

fig = go.Figure()
layout = {}
annotations = []
font = "Liberation Sans"
tick_size = 31
label_size = 35
for i in range(4):
    c, r = i % 2, i // 2
    s = "" if i == 0 else str(i + 1)
    xs, ys = [], []
    for x, vals in all_cols[i]:
        for v in vals:
            xs.append(x); ys.append(v)
    fig.add_trace(go.Scatter(x=xs, y=ys, mode="markers", xaxis="x"+s, yaxis="y"+s, showlegend=False,
                             marker=dict(color="black", size=8, line=dict(width=0)), name=panel_names[i]))
    fig.add_trace(go.Scatter(x=line_x, y=line_ends[i], mode="lines", xaxis="x"+s, yaxis="y"+s, showlegend=False,
                             line=dict(color="#ff0000", width=1.8)))
    common = dict(showline=True, linecolor="black", linewidth=1.5, mirror="ticks", ticks="inside", tickcolor="black",
                  tickwidth=1.4, showgrid=False, zeroline=False, tickfont=dict(family=font, size=tick_size, color="black"))
    layout["xaxis"+s] = dict(common, domain=[lefts[c]/W, rights[c]/W], range=[0,20], anchor="y"+s, tickmode="array",
        tickvals=[0,5,10,15,20], ticklen=14, ticklabelstandoff=-1,
        minor=dict(dtick=1, tick0=0, ticks="inside", ticklen=7, tickcolor="black", tickwidth=1.4),
        title=dict(text="Luminosity (kR) at 4278", font=dict(family=font, size=label_size, color="black"), standoff=16))
    top = y_ranges[i]
    labels = ["" if v in (0, top) else t for v, t in zip(y_major[i], y_major_text[i])]
    layout["yaxis"+s] = dict(common, domain=[1-bottoms[r]/H, 1-tops[r]/H], range=[0,top], anchor="x"+s, tickmode="array",
        tickvals=y_major[i], ticktext=labels, ticklen=14, ticklabelstandoff=10,
        minor=dict(dtick=y_minor_step[i], tick0=0, ticks="inside", ticklen=7, tickcolor="black", tickwidth=1.4),
        title=dict(text="Luminosity (kR) at "+panel_names[i], font=dict(family=font, size=label_size, color="black"), standoff=ytitle_standoff[i]))
    annotations.append(dict(text=titles[i], xref=f"x{s} domain", yref=f"y{s} domain", x=0.5, y=1, yshift=28, showarrow=False,
                            yanchor="middle", font=dict(family=font, size=34, color="black")))
    annotations.append(dict(text=y_major_text[i][-1], xref=f"x{s} domain", yref=f"y{s} domain", x=0, y=1, xshift=-12, yshift=-7,
                            showarrow=False, xanchor="right", yanchor="middle", font=dict(family=font, size=tick_size, color="black")))
    annotations.append(dict(text=y_major_text[i][0], xref=f"x{s} domain", yref=f"y{s} domain", x=0, y=0, xshift=-12, yshift=9,
                            showarrow=False, xanchor="right", yanchor="middle", font=dict(family=font, size=tick_size, color="black")))

fig.update_layout(width=W, height=H, margin=dict(l=0,r=0,t=0,b=0,autoexpand=False), plot_bgcolor="white", paper_bgcolor="white",
                  annotations=annotations, **layout)
fig.write_html("out.html", config={"displayModeBar": False},
               post_script="document.body.style.margin='0';document.body.style.overflow='hidden';")
